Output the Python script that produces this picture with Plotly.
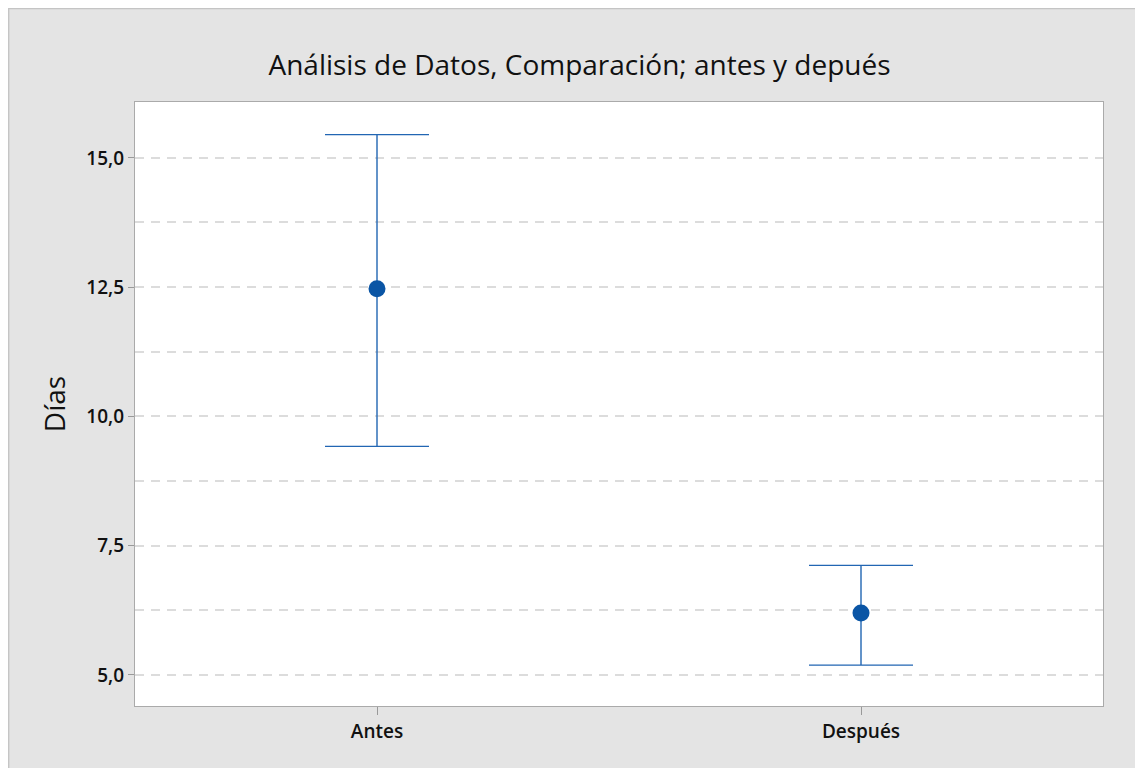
import plotly.graph_objects as go

categories = ["Antes", "Después"]
means = [12.47, 6.20]
upper = [15.45, 7.12]
lower = [9.42, 5.19]
y_ticks = [5.0, 7.5, 10.0, 12.5, 15.0]

err_plus = [u - m for u, m in zip(upper, means)]
err_minus = [m - l for m, l in zip(means, lower)]

W, H = 1143, 768
L, R, T, B = 127, 48, 94, 70
PW, PH = W - L - R, H - T - B

fig = go.Figure()
fig.add_trace(go.Scatter(
    x=categories, y=means, mode="markers",
    marker=dict(size=17, color="#0a55a5"),
    error_y=dict(type="data", symmetric=False, array=err_plus, arrayminus=err_minus,
                 color="#2266b3", thickness=1.4, width=52),
    showlegend=False,
))

grid = dict(gridcolor="#dcdcdc", gridwidth=2, griddash="9px,7px")
tickfont = dict(size=19, family="Open Sans", weight=600, color="#111111")
fig.update_layout(
    width=W, height=H,
    paper_bgcolor="#e4e4e4", plot_bgcolor="white",
    margin=dict(l=L, r=R, t=T, b=B, autoexpand=False),
    separators=",.",
    font=dict(family="Open Sans", color="#111111"),
    title=dict(text="Análisis de Datos, Comparación; antes y depués",
               x=0.5, xref="container", xanchor="center",
               y=1 - 57 / H, yref="container", yanchor="middle",
               font=dict(size=28, family="Open Sans", color="#111111")),
    xaxis=dict(range=[-0.5, 1.5], showgrid=False, ticks="outside", ticklen=8,
               tickcolor="#999999", tickwidth=1,
               showline=True, linecolor="#aaaaaa", linewidth=1.3, mirror=True,
               tickfont=tickfont, zeroline=False),
    yaxis=dict(range=[4.40, 16.08], tickvals=y_ticks, tickformat=".1f",
               ticks="outside", ticklen=6, tickcolor="#999999", tickwidth=1,
               showline=True, linecolor="#aaaaaa", linewidth=1.3, mirror=True,
               tickfont=tickfont, zeroline=False,
               minor=dict(dtick=1.25, tick0=5, showgrid=True, ticks="", **grid),
               title=dict(text="Días", standoff=12,
                          font=dict(size=28, family="Open Sans", color="#111111")),
               **grid),
)

# thin frame at the paper edge (left and top visible)
fig.add_shape(type="rect", xref="paper", yref="paper",
              x0=(-L + 0.7) / PW, x1=(PW + R + 20) / PW,
              y0=(-B - 20) / PH, y1=(PH + T - 0.7) / PH,
              line=dict(color="#c4c4c4", width=1.3), fillcolor="rgba(0,0,0,0)",
              layer="above")

fig.write_html("out.html")
